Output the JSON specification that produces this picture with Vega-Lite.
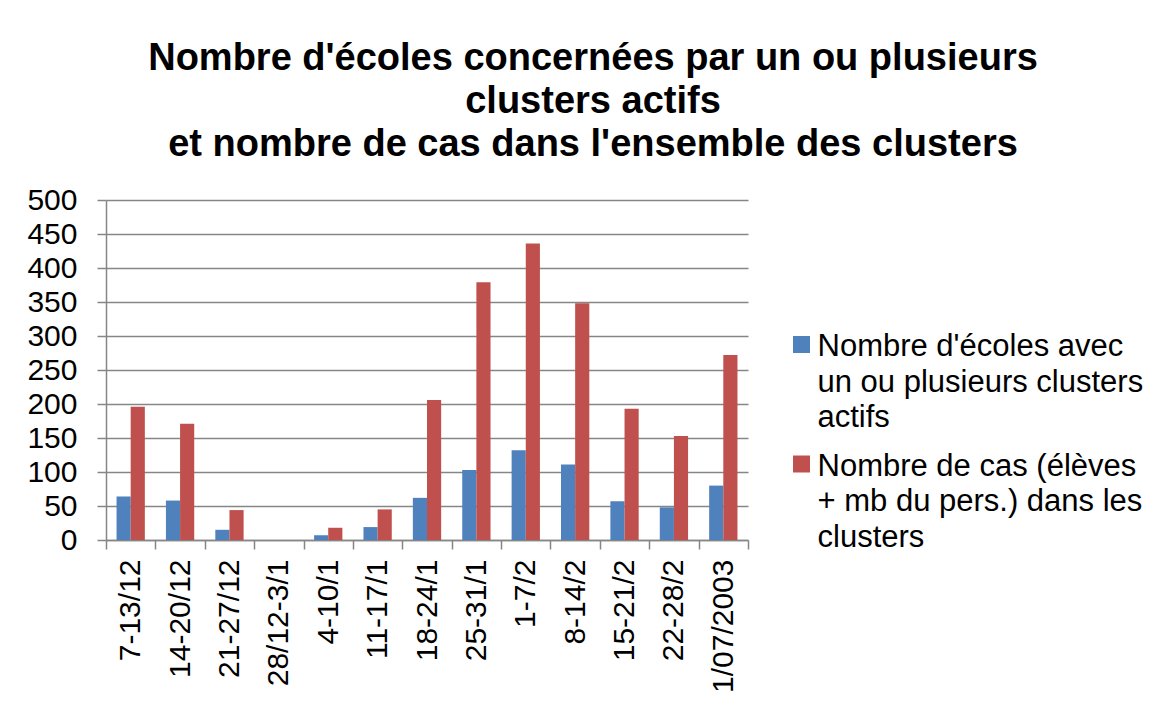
{
  "$schema": "https://vega.github.io/schema/vega-lite/v6.json",
  "width": 642,
  "height": 340,
  "autosize": {"type": "none"},
  "padding": {"left": 106, "top": 200, "right": 420, "bottom": 171},
  "background": "white",
  "config": {
    "view": {"stroke": null},
    "font": "Liberation Sans"
  },
  "title": {
    "text": ["Nombre d'écoles concernées par un ou plusieurs", "clusters actifs", "et nombre de cas dans l'ensemble des clusters"],
    "fontSize": 38,
    "fontWeight": "bold",
    "font": "Liberation Sans",
    "color": "#000000",
    "lineHeight": 43,
    "anchor": "middle",
    "frame": "group",
    "baseline": "alphabetic",
    "dx": 166,
    "offset": -9
  },
  "data": {
    "values": [
      {"semaine": "7-13/12", "serie": "Nombre d'écoles avec un ou plusieurs clusters actifs", "valeur": 64},
      {"semaine": "7-13/12", "serie": "Nombre de cas (élèves + mb du pers.) dans les clusters", "valeur": 196},
      {"semaine": "14-20/12", "serie": "Nombre d'écoles avec un ou plusieurs clusters actifs", "valeur": 58},
      {"semaine": "14-20/12", "serie": "Nombre de cas (élèves + mb du pers.) dans les clusters", "valeur": 171},
      {"semaine": "21-27/12", "serie": "Nombre d'écoles avec un ou plusieurs clusters actifs", "valeur": 15},
      {"semaine": "21-27/12", "serie": "Nombre de cas (élèves + mb du pers.) dans les clusters", "valeur": 44},
      {"semaine": "28/12-3/1", "serie": "Nombre d'écoles avec un ou plusieurs clusters actifs", "valeur": 0},
      {"semaine": "28/12-3/1", "serie": "Nombre de cas (élèves + mb du pers.) dans les clusters", "valeur": 0},
      {"semaine": "4-10/1", "serie": "Nombre d'écoles avec un ou plusieurs clusters actifs", "valeur": 7},
      {"semaine": "4-10/1", "serie": "Nombre de cas (élèves + mb du pers.) dans les clusters", "valeur": 18},
      {"semaine": "11-17/1", "serie": "Nombre d'écoles avec un ou plusieurs clusters actifs", "valeur": 19},
      {"semaine": "11-17/1", "serie": "Nombre de cas (élèves + mb du pers.) dans les clusters", "valeur": 45},
      {"semaine": "18-24/1", "serie": "Nombre d'écoles avec un ou plusieurs clusters actifs", "valeur": 62},
      {"semaine": "18-24/1", "serie": "Nombre de cas (élèves + mb du pers.) dans les clusters", "valeur": 206},
      {"semaine": "25-31/1", "serie": "Nombre d'écoles avec un ou plusieurs clusters actifs", "valeur": 103},
      {"semaine": "25-31/1", "serie": "Nombre de cas (élèves + mb du pers.) dans les clusters", "valeur": 379},
      {"semaine": "1-7/2", "serie": "Nombre d'écoles avec un ou plusieurs clusters actifs", "valeur": 132},
      {"semaine": "1-7/2", "serie": "Nombre de cas (élèves + mb du pers.) dans les clusters", "valeur": 436},
      {"semaine": "8-14/2", "serie": "Nombre d'écoles avec un ou plusieurs clusters actifs", "valeur": 111},
      {"semaine": "8-14/2", "serie": "Nombre de cas (élèves + mb du pers.) dans les clusters", "valeur": 348},
      {"semaine": "15-21/2", "serie": "Nombre d'écoles avec un ou plusieurs clusters actifs", "valeur": 57},
      {"semaine": "15-21/2", "serie": "Nombre de cas (élèves + mb du pers.) dans les clusters", "valeur": 193},
      {"semaine": "22-28/2", "serie": "Nombre d'écoles avec un ou plusieurs clusters actifs", "valeur": 48},
      {"semaine": "22-28/2", "serie": "Nombre de cas (élèves + mb du pers.) dans les clusters", "valeur": 153},
      {"semaine": "1/07/2003", "serie": "Nombre d'écoles avec un ou plusieurs clusters actifs", "valeur": 80},
      {"semaine": "1/07/2003", "serie": "Nombre de cas (élèves + mb du pers.) dans les clusters", "valeur": 272}
    ]
  },
  "mark": {"type": "bar"},
  "encoding": {
    "x": {
      "field": "semaine",
      "type": "nominal",
      "sort": null,
      "scale": {"paddingInner": 0, "paddingOuter": 0},
      "axis": {
        "title": null,
        "labelAngle": -90,
        "labelAlign": "right",
        "labelBaseline": "middle",
        "labelFont": "Liberation Sans",
        "labelFontSize": 30,
        "labelColor": "#000000",
        "labelPadding": 10,
        "tickBand": "extent",
        "tickSize": 9,
        "tickColor": "#868686",
        "tickWidth": 1.5,
        "domainColor": "#868686",
        "domainWidth": 1.5,
        "grid": false
      }
    },
    "xOffset": {
      "field": "serie",
      "type": "nominal",
      "scale": {
        "domain": ["Nombre d'écoles avec un ou plusieurs clusters actifs", "Nombre de cas (élèves + mb du pers.) dans les clusters"],
        "paddingInner": 0,
        "paddingOuter": 0.745
      }
    },
    "y": {
      "field": "valeur",
      "type": "quantitative",
      "scale": {"domain": [0, 500], "nice": false},
      "axis": {
        "title": null,
        "values": [0, 50, 100, 150, 200, 250, 300, 350, 400, 450, 500],
        "labelFont": "Liberation Sans",
        "labelFontSize": 30,
        "labelColor": "#000000",
        "labelPadding": 20,
        "tickSize": 9,
        "tickColor": "#868686",
        "tickWidth": 1.5,
        "domainColor": "#868686",
        "domainWidth": 1.5,
        "gridColor": "#868686",
        "gridWidth": 1.5,
        "gridOpacity": 1
      }
    },
    "color": {
      "field": "serie",
      "type": "nominal",
      "scale": {
        "domain": ["Nombre d'écoles avec un ou plusieurs clusters actifs", "Nombre de cas (élèves + mb du pers.) dans les clusters"],
        "range": ["#4F81BD", "#C0504D"]
      },
      "legend": {
        "title": null,
        "orient": "none",
        "legendX": 680,
        "legendY": 129,
        "padding": 0,
        "symbolType": "square",
        "symbolSize": 289,
        "symbolStrokeWidth": 0,
        "symbolOpacity": 1,
        "labelFont": "Liberation Sans",
        "labelFontSize": 31,
        "labelColor": "#000000",
        "labelLimit": 0,
        "labelOffset": 0.5,
        "labelBaseline": "top",
        "rowPadding": 15.5,
        "labelExpr": "indexof(datum.label, 'écoles') > 0 ? [\"Nombre d'écoles avec\", 'un ou plusieurs clusters', 'actifs'] : ['Nombre de cas (élèves', '+ mb du pers.) dans les', 'clusters']",
        "encode": {
          "labels": {"update": {"dy": {"value": -12.5}, "lineHeight": {"value": 35.5}}}
        }
      }
    }
  }
}
